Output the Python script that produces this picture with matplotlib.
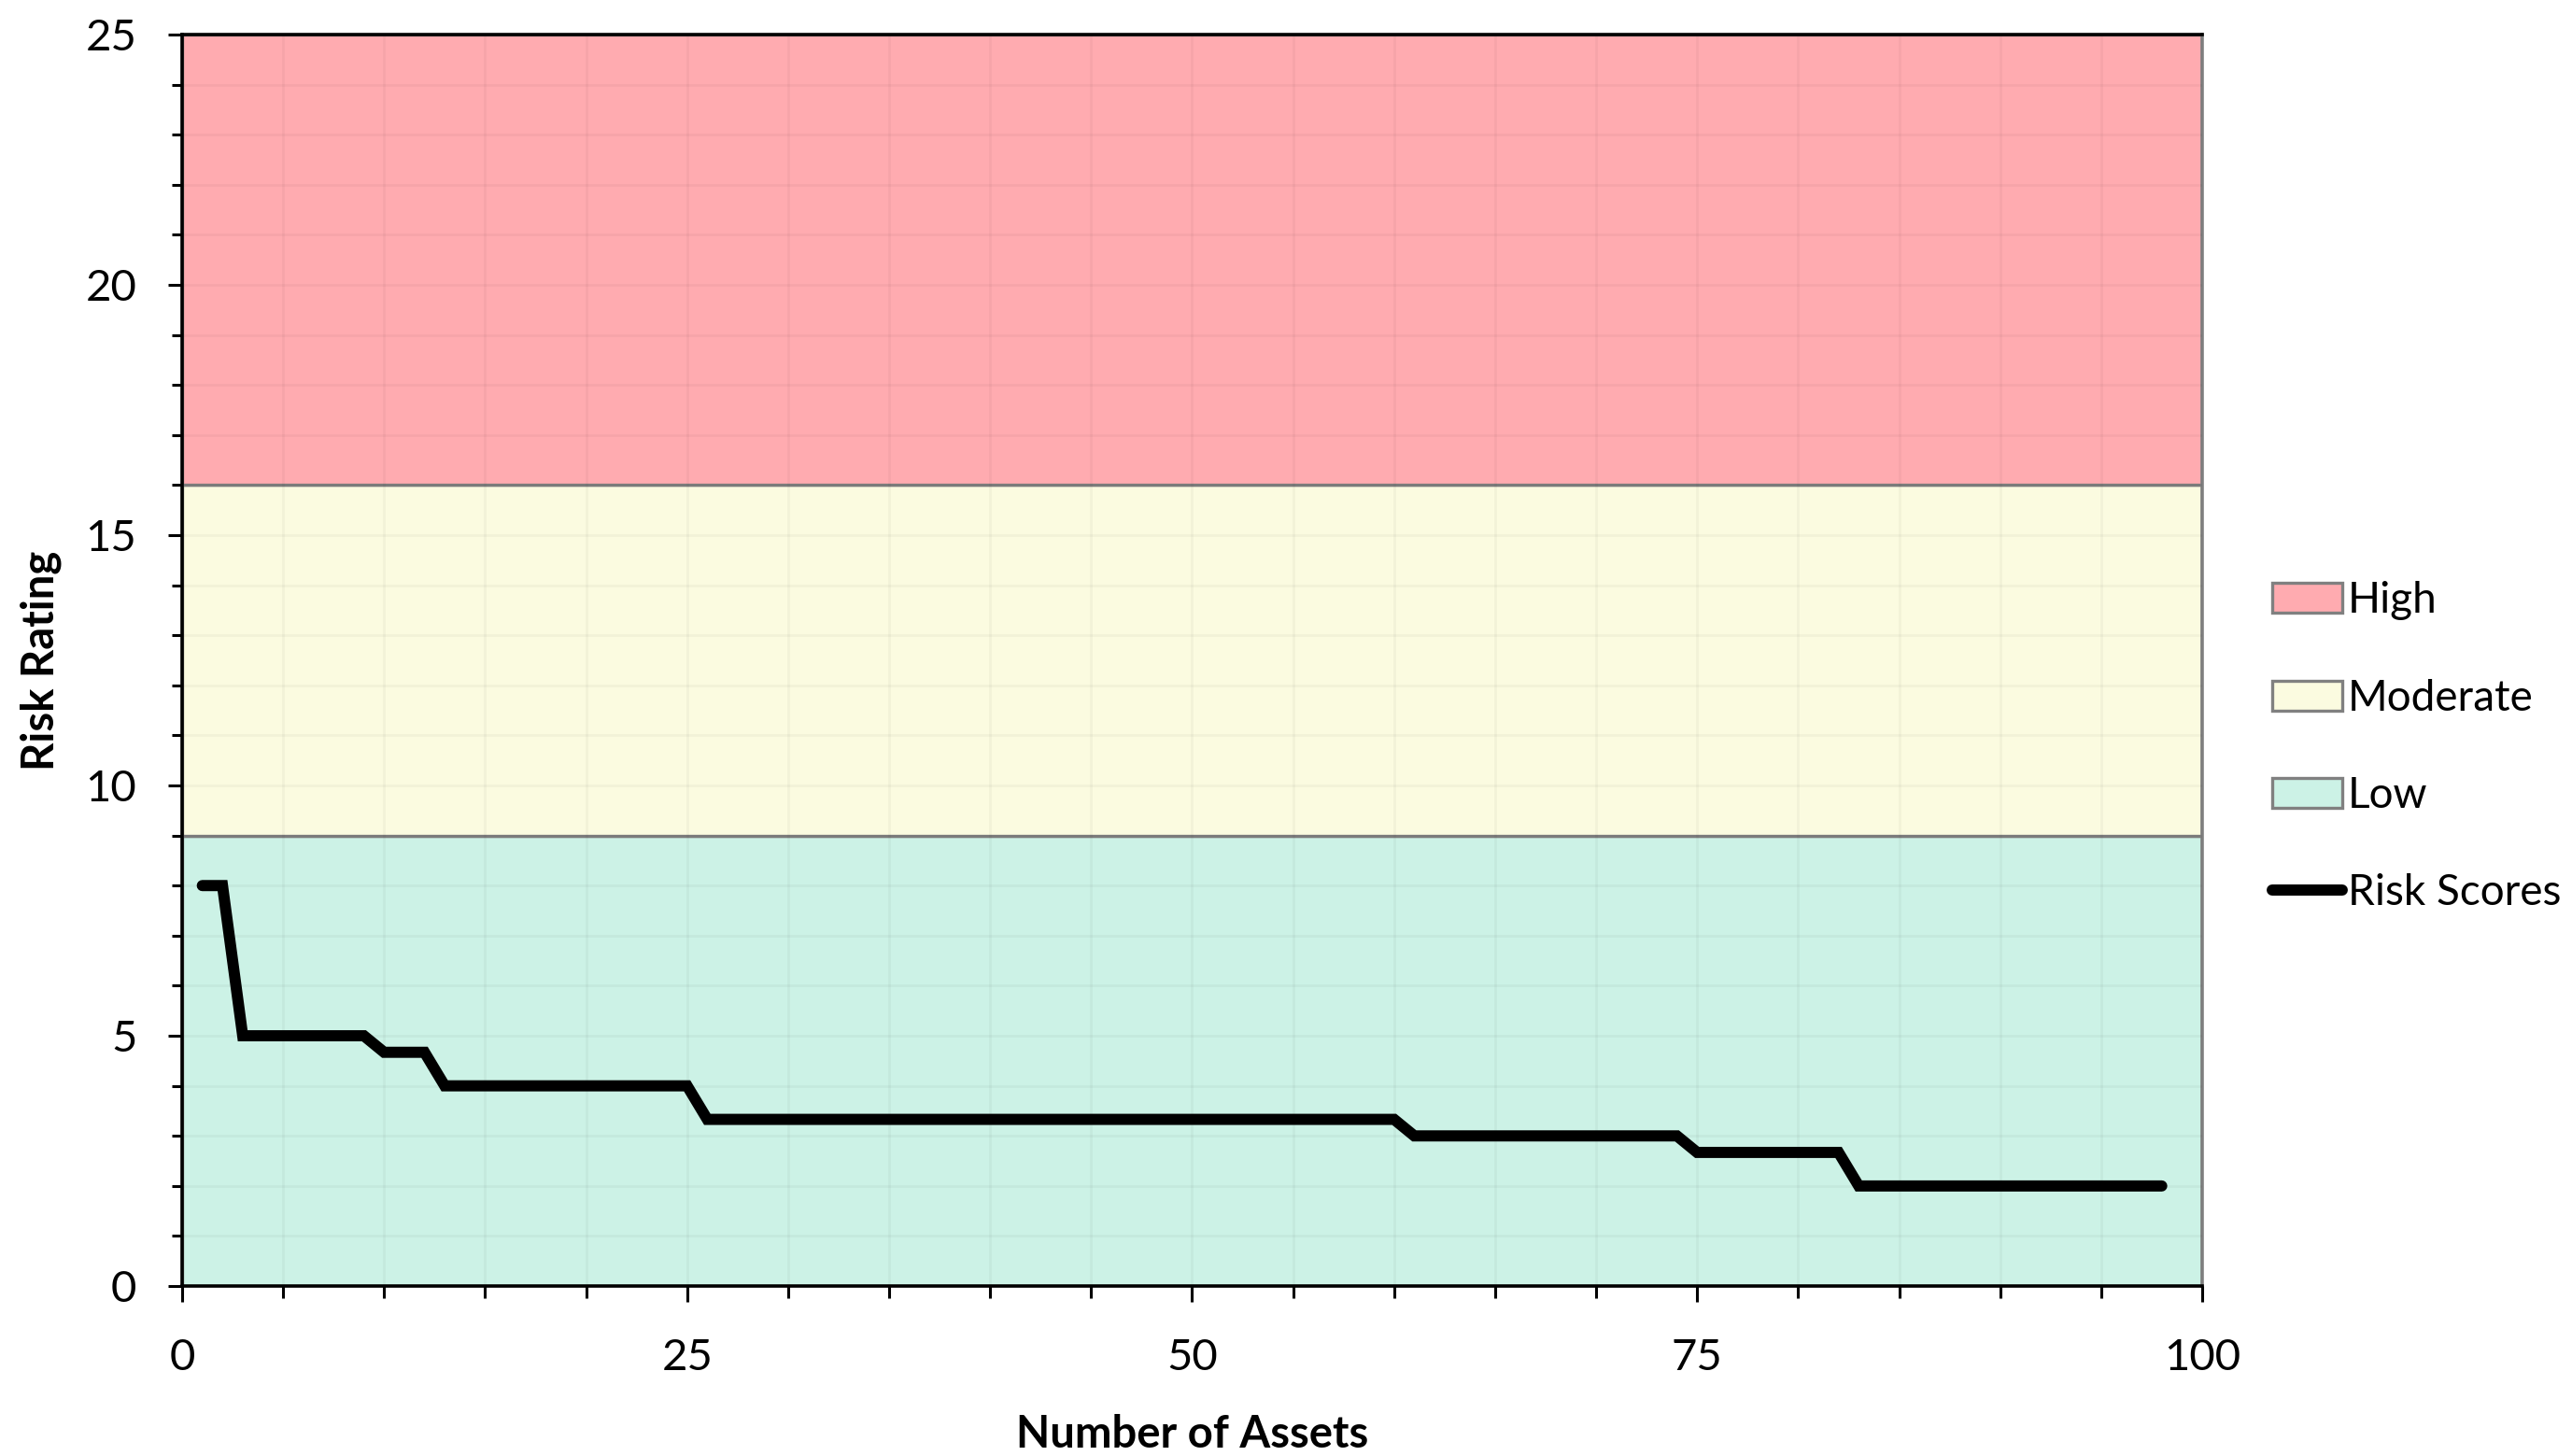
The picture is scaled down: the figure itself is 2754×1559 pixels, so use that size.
import matplotlib
matplotlib.use("Agg")
import matplotlib.pyplot as plt
from matplotlib.patches import Patch
from matplotlib.lines import Line2D
from matplotlib.ticker import MultipleLocator

# risk bands (stacked thickness of each zone)
band_x = [0, 100]
low_band = [9, 9]
moderate_band = [7, 7]
high_band = [9, 9]
band_names = ["High", "Moderate", "Low"]

# risk score per asset, sorted high to low
asset_no = list(range(1, 99))
risk_scores = [
    8, 8,
    5, 5, 5, 5, 5, 5, 5,
    4.67, 4.67, 4.67,
    4, 4, 4, 4, 4, 4, 4, 4, 4, 4, 4, 4, 4,
    3.33, 3.33, 3.33, 3.33, 3.33, 3.33, 3.33, 3.33, 3.33, 3.33,
    3.33, 3.33, 3.33, 3.33, 3.33, 3.33, 3.33, 3.33, 3.33, 3.33,
    3.33, 3.33, 3.33, 3.33, 3.33, 3.33, 3.33, 3.33, 3.33, 3.33,
    3.33, 3.33, 3.33, 3.33, 3.33,
    3, 3, 3, 3, 3, 3, 3, 3, 3, 3, 3, 3, 3, 3,
    2.67, 2.67, 2.67, 2.67, 2.67, 2.67, 2.67, 2.67,
    2, 2, 2, 2, 2, 2, 2, 2, 2, 2, 2, 2, 2, 2, 2, 2,
]

c_low = "#ccf2e6"
c_mod = "#fbfbe0"
c_high = "#ffabb0"
edge = "#808080"

plt.rcParams["font.family"] = ["Lato", "DejaVu Sans"]

fig = plt.figure(figsize=(13.77, 7.795), dpi=200)
ax = fig.add_axes([0.0708, 0.1167, 0.7854, 0.8596])

ax.stackplot(band_x, low_band, moderate_band, high_band,
             colors=[c_low, c_mod, c_high], edgecolor=edge, linewidth=1.2, zorder=1)
ax.plot(asset_no, risk_scores, color="black", lw=4.3,
        solid_capstyle="round", solid_joinstyle="miter", zorder=4)

ax.set_xlim(0, 100)
ax.set_ylim(0, 25)
ax.xaxis.set_major_locator(MultipleLocator(25))
ax.xaxis.set_minor_locator(MultipleLocator(5))
ax.yaxis.set_major_locator(MultipleLocator(5))
ax.yaxis.set_minor_locator(MultipleLocator(1))

ax.grid(which="both", color="black", alpha=0.035, lw=1.0, zorder=2)
ax.set_axisbelow(False)

ax.tick_params(axis="both", which="major", labelsize=17, width=1.1, color="black")
ax.tick_params(axis="x", which="major", length=6, pad=14)
ax.tick_params(axis="x", which="minor", length=4.5, width=1.1)
ax.tick_params(axis="y", which="major", length=5.5, pad=12)
ax.tick_params(axis="y", which="minor", length=4, width=1.1)

for s in ["left", "bottom", "top"]:
    ax.spines[s].set_color("black")
    ax.spines[s].set_linewidth(1.3)
ax.spines["right"].set_color(edge)
ax.spines["right"].set_linewidth(1.3)

ax.set_xlabel("Number of Assets", fontsize=17, fontweight="bold", labelpad=14)
ax.set_ylabel("Risk Rating", fontsize=17, fontweight="bold", labelpad=9)

handles = [
    Patch(facecolor=c_high, edgecolor=edge, lw=1.2),
    Patch(facecolor=c_mod, edgecolor=edge, lw=1.2),
    Patch(facecolor=c_low, edgecolor=edge, lw=1.2),
    Line2D([0], [0], color="black", lw=4.3, solid_capstyle="round"),
]
fig.legend(handles, band_names + ["Risk Scores"], loc="center left",
           bbox_to_anchor=(0.875, 0.487), frameon=False, fontsize=16.5,
           handlelength=1.65, handleheight=0.7, handletextpad=0.12,
           labelspacing=1.36, borderpad=0)

fig.savefig("out.png", dpi=200)
